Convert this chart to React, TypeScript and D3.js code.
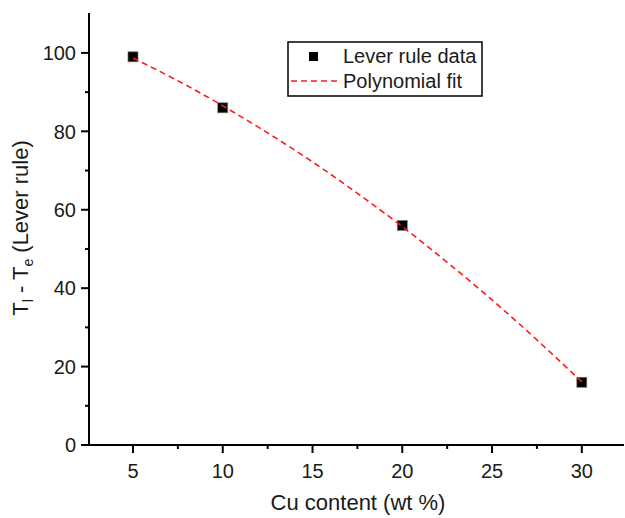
import React from "react";
import * as d3 from "d3";

const cuContent = [5, 10, 20, 30];
const leverRule = [99, 86, 56, 16];
const fitX = [5, 7.5, 10, 12.5, 15, 17.5, 20, 22.5, 25, 27.5, 30];
const fitY = [98.7, 92.9, 86.5, 79.6, 72.2, 64.2, 55.7, 46.6, 37.0, 26.8, 16.1];
const xTicks = [5, 10, 15, 20, 25, 30];
const xMinor = [7.5, 12.5, 17.5, 22.5, 27.5];
const yTicks = [0, 20, 40, 60, 80, 100];
const yMinor = [10, 30, 50, 70, 90];

const W = 625, H = 518;
const left = 89, bottom = 445, top = 13, right = 624;

export default function App() {
  const x = d3.scaleLinear().domain([2.55, 32.35]).range([left, right]);
  const y = d3.scaleLinear().domain([0, 110]).range([bottom, top + 0.7]);
  const line = d3
    .line<number>()
    .x((_, i) => x(fitX[i]))
    .y((d) => y(d))
    .curve(d3.curveNatural);
  const font = "Liberation Sans, Arial, sans-serif";
  const tickFs = 20;
  const titleFs = 22;
  return (
    <svg width={W} height={H} style={{ position: "absolute", left: 0, top: 0 }} fontFamily={font}>
      <rect width={W} height={H} fill="white" />
      {/* markers */}
      {cuContent.map((c, i) => (
        <rect key={i} x={x(c) - 5} y={y(leverRule[i]) - 5} width={10} height={10} fill="#000" stroke="#777" strokeWidth={0.7} />
      ))}
      {/* fit line */}
      <path d={line(fitY) || ""} fill="none" stroke="#ff1a1a" strokeWidth={1.6} strokeDasharray="6,4" />
      {/* axes */}
      <line x1={left} x2={left} y1={top} y2={bottom + 1} stroke="#000" strokeWidth={2} />
      <line x1={left - 1} x2={right} y1={bottom} y2={bottom} stroke="#000" strokeWidth={2} />
      {yTicks.map((t) => (
        <g key={"y" + t}>
          <line x1={left - 8} x2={left} y1={y(t)} y2={y(t)} stroke="#000" strokeWidth={2} />
          <text x={left - 13} y={y(t)} dy="0.36em" textAnchor="end" fontSize={tickFs} fill="#1a1a1a">{t}</text>
        </g>
      ))}
      {yMinor.map((t) => (
        <line key={"ym" + t} x1={left - 4} x2={left} y1={y(t)} y2={y(t)} stroke="#000" strokeWidth={2} />
      ))}
      {xTicks.map((t) => (
        <g key={"x" + t}>
          <line x1={x(t)} x2={x(t)} y1={bottom} y2={bottom + 8} stroke="#000" strokeWidth={2} />
          <text x={x(t)} y={bottom + 33} textAnchor="middle" fontSize={tickFs} fill="#1a1a1a">{t}</text>
        </g>
      ))}
      {xMinor.map((t) => (
        <line key={"xm" + t} x1={x(t)} x2={x(t)} y1={bottom} y2={bottom + 4} stroke="#000" strokeWidth={2} />
      ))}
      {/* axis titles */}
      <text x={358} y={510} textAnchor="middle" fontSize={titleFs} fill="#1a1a1a">Cu content (wt %)</text>
      <text transform={`translate(28, 228) rotate(-90)`} textAnchor="middle" fontSize={titleFs} fill="#1a1a1a">
        T<tspan fontSize={14} dy={5}>l</tspan>
        <tspan dy={-5}> - T</tspan>
        <tspan fontSize={14} dy={5}>e</tspan>
        <tspan dy={-5}> (Lever rule)</tspan>
      </text>
      {/* legend */}
      <rect x={288} y={42} width={194} height={54} fill="white" stroke="#000" strokeWidth={1.5} />
      <rect x={309} y={52} width={9} height={9} fill="#000" />
      <text x={343} y={63} fontSize={tickFs} fill="#1a1a1a">Lever rule data</text>
      <line x1={291} x2={338} y1={81} y2={81} stroke="#ff1a1a" strokeWidth={1.6} strokeDasharray="6,4" />
      <text x={343} y={88} fontSize={tickFs} fill="#1a1a1a">Polynomial fit</text>
    </svg>
  );
}
